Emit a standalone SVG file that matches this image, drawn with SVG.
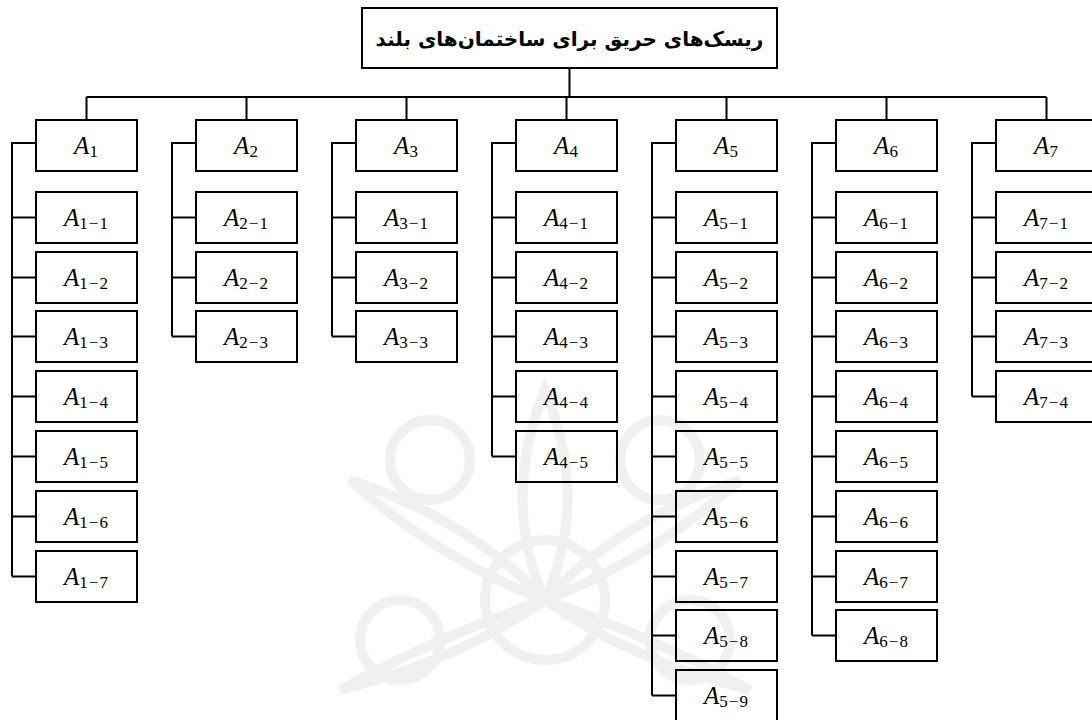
<svg xmlns="http://www.w3.org/2000/svg" width="1092" height="720" viewBox="0 0 1092 720">
<style>
.bx{fill:#fff;stroke:#000;stroke-width:2}
.bx2{fill:none;stroke:#000;stroke-width:2}
.ln{fill:none;stroke:#000;stroke-width:2}
.t{font-family:"Liberation Serif","DejaVu Serif",serif;font-size:25px;text-anchor:middle;fill:#000}
.a{font-style:italic}
.s{font-size:17px;letter-spacing:1px}
.ttl{font-family:"DejaVu Sans",sans-serif;font-weight:bold;font-size:20px;text-anchor:middle;fill:#000}
.wm{fill:none;stroke:#f0f0f0;stroke-width:10}
</style>
<rect width="1092" height="720" fill="#fff"/>
<g id="watermark" class="wm">
<circle cx="545" cy="600" r="60"/>
<path d="M545 600 Q500 500 545 390 Q590 500 545 600"/>
<path d="M545 600 Q440 560 350 480 Q470 520 545 600"/>
<path d="M545 600 Q650 560 740 480 Q620 520 545 600"/>
<path d="M545 600 Q430 640 340 690 Q460 660 545 600"/>
<path d="M545 600 Q660 640 750 690 Q630 660 545 600"/>
<circle cx="430" cy="460" r="40"/>
<circle cx="660" cy="460" r="40"/>
<circle cx="400" cy="640" r="40"/>
<circle cx="690" cy="640" r="40"/>
</g>
<g id="connectors" class="ln">
<path d="M569.5 68V97M86.5 97H1046.5M86.5 97V120M246.5 97V120M406.5 97V120M566.5 97V120M726.5 97V120M886.5 97V120M1046.5 97V120"/>
<path d="M36 143H12V576.5M12 217.5H36M12 277.5H36M12 336.5H36M12 396.5H36M12 456.5H36M12 516.5H36M12 576.5H36"/>
<path d="M196 143H172V336.5M172 217.5H196M172 277.5H196M172 336.5H196"/>
<path d="M356 143H332V336.5M332 217.5H356M332 277.5H356M332 336.5H356"/>
<path d="M516 143H492V456.5M492 217.5H516M492 277.5H516M492 336.5H516M492 396.5H516M492 456.5H516"/>
<path d="M676 143H652V695.5M652 217.5H676M652 277.5H676M652 336.5H676M652 396.5H676M652 456.5H676M652 516.5H676M652 576.5H676M652 635.5H676M652 695.5H676"/>
<path d="M836 143H812V635.5M812 217.5H836M812 277.5H836M812 336.5H836M812 396.5H836M812 456.5H836M812 516.5H836M812 576.5H836M812 635.5H836"/>
<path d="M996 143H972V396.5M972 217.5H996M972 277.5H996M972 336.5H996M972 396.5H996"/>
</g>
<g id="root"><rect class="bx" x="362" y="8" width="415" height="60"/><text class="ttl" x="569.5" y="46" direction="rtl">ریسک‌های حریق برای ساختمان‌های بلند</text></g>
<g id="A1"><rect class="bx" x="36" y="120" width="101" height="51"/><text class="t" x="86.5" y="154"><tspan class="a">A</tspan><tspan class="s" dy="3">1</tspan></text></g>
<g id="A1-1"><rect class="bx" x="36" y="192" width="101" height="51"/><text class="t" x="86.5" y="226"><tspan class="a">A</tspan><tspan class="s" dy="3">1−1</tspan></text></g>
<g id="A1-2"><rect class="bx" x="36" y="252" width="101" height="51"/><text class="t" x="86.5" y="286"><tspan class="a">A</tspan><tspan class="s" dy="3">1−2</tspan></text></g>
<g id="A1-3"><rect class="bx" x="36" y="311" width="101" height="51"/><text class="t" x="86.5" y="345"><tspan class="a">A</tspan><tspan class="s" dy="3">1−3</tspan></text></g>
<g id="A1-4"><rect class="bx" x="36" y="371" width="101" height="51"/><text class="t" x="86.5" y="405"><tspan class="a">A</tspan><tspan class="s" dy="3">1−4</tspan></text></g>
<g id="A1-5"><rect class="bx" x="36" y="431" width="101" height="51"/><text class="t" x="86.5" y="465"><tspan class="a">A</tspan><tspan class="s" dy="3">1−5</tspan></text></g>
<g id="A1-6"><rect class="bx" x="36" y="491" width="101" height="51"/><text class="t" x="86.5" y="525"><tspan class="a">A</tspan><tspan class="s" dy="3">1−6</tspan></text></g>
<g id="A1-7"><rect class="bx" x="36" y="551" width="101" height="51"/><text class="t" x="86.5" y="585"><tspan class="a">A</tspan><tspan class="s" dy="3">1−7</tspan></text></g>
<g id="A2"><rect class="bx" x="196" y="120" width="101" height="51"/><text class="t" x="246.5" y="154"><tspan class="a">A</tspan><tspan class="s" dy="3">2</tspan></text></g>
<g id="A2-1"><rect class="bx" x="196" y="192" width="101" height="51"/><text class="t" x="246.5" y="226"><tspan class="a">A</tspan><tspan class="s" dy="3">2−1</tspan></text></g>
<g id="A2-2"><rect class="bx" x="196" y="252" width="101" height="51"/><text class="t" x="246.5" y="286"><tspan class="a">A</tspan><tspan class="s" dy="3">2−2</tspan></text></g>
<g id="A2-3"><rect class="bx" x="196" y="311" width="101" height="51"/><text class="t" x="246.5" y="345"><tspan class="a">A</tspan><tspan class="s" dy="3">2−3</tspan></text></g>
<g id="A3"><rect class="bx" x="356" y="120" width="101" height="51"/><text class="t" x="406.5" y="154"><tspan class="a">A</tspan><tspan class="s" dy="3">3</tspan></text></g>
<g id="A3-1"><rect class="bx" x="356" y="192" width="101" height="51"/><text class="t" x="406.5" y="226"><tspan class="a">A</tspan><tspan class="s" dy="3">3−1</tspan></text></g>
<g id="A3-2"><rect class="bx" x="356" y="252" width="101" height="51"/><text class="t" x="406.5" y="286"><tspan class="a">A</tspan><tspan class="s" dy="3">3−2</tspan></text></g>
<g id="A3-3"><rect class="bx" x="356" y="311" width="101" height="51"/><text class="t" x="406.5" y="345"><tspan class="a">A</tspan><tspan class="s" dy="3">3−3</tspan></text></g>
<g id="A4"><rect class="bx" x="516" y="120" width="101" height="51"/><text class="t" x="566.5" y="154"><tspan class="a">A</tspan><tspan class="s" dy="3">4</tspan></text></g>
<g id="A4-1"><rect class="bx" x="516" y="192" width="101" height="51"/><text class="t" x="566.5" y="226"><tspan class="a">A</tspan><tspan class="s" dy="3">4−1</tspan></text></g>
<g id="A4-2"><rect class="bx" x="516" y="252" width="101" height="51"/><text class="t" x="566.5" y="286"><tspan class="a">A</tspan><tspan class="s" dy="3">4−2</tspan></text></g>
<g id="A4-3"><rect class="bx" x="516" y="311" width="101" height="51"/><text class="t" x="566.5" y="345"><tspan class="a">A</tspan><tspan class="s" dy="3">4−3</tspan></text></g>
<g id="A4-4"><rect class="bx2" x="516" y="371" width="101" height="51"/><text class="t" x="566.5" y="405"><tspan class="a">A</tspan><tspan class="s" dy="3">4−4</tspan></text></g>
<g id="A4-5"><rect class="bx2" x="516" y="431" width="101" height="51"/><text class="t" x="566.5" y="465"><tspan class="a">A</tspan><tspan class="s" dy="3">4−5</tspan></text></g>
<g id="A5"><rect class="bx" x="676" y="120" width="101" height="51"/><text class="t" x="726.5" y="154"><tspan class="a">A</tspan><tspan class="s" dy="3">5</tspan></text></g>
<g id="A5-1"><rect class="bx" x="676" y="192" width="101" height="51"/><text class="t" x="726.5" y="226"><tspan class="a">A</tspan><tspan class="s" dy="3">5−1</tspan></text></g>
<g id="A5-2"><rect class="bx" x="676" y="252" width="101" height="51"/><text class="t" x="726.5" y="286"><tspan class="a">A</tspan><tspan class="s" dy="3">5−2</tspan></text></g>
<g id="A5-3"><rect class="bx" x="676" y="311" width="101" height="51"/><text class="t" x="726.5" y="345"><tspan class="a">A</tspan><tspan class="s" dy="3">5−3</tspan></text></g>
<g id="A5-4"><rect class="bx2" x="676" y="371" width="101" height="51"/><text class="t" x="726.5" y="405"><tspan class="a">A</tspan><tspan class="s" dy="3">5−4</tspan></text></g>
<g id="A5-5"><rect class="bx2" x="676" y="431" width="101" height="51"/><text class="t" x="726.5" y="465"><tspan class="a">A</tspan><tspan class="s" dy="3">5−5</tspan></text></g>
<g id="A5-6"><rect class="bx2" x="676" y="491" width="101" height="51"/><text class="t" x="726.5" y="525"><tspan class="a">A</tspan><tspan class="s" dy="3">5−6</tspan></text></g>
<g id="A5-7"><rect class="bx2" x="676" y="551" width="101" height="51"/><text class="t" x="726.5" y="585"><tspan class="a">A</tspan><tspan class="s" dy="3">5−7</tspan></text></g>
<g id="A5-8"><rect class="bx2" x="676" y="610" width="101" height="51"/><text class="t" x="726.5" y="644"><tspan class="a">A</tspan><tspan class="s" dy="3">5−8</tspan></text></g>
<g id="A5-9"><rect class="bx2" x="676" y="670" width="101" height="51"/><text class="t" x="726.5" y="704"><tspan class="a">A</tspan><tspan class="s" dy="3">5−9</tspan></text></g>
<g id="A6"><rect class="bx" x="836" y="120" width="101" height="51"/><text class="t" x="886.5" y="154"><tspan class="a">A</tspan><tspan class="s" dy="3">6</tspan></text></g>
<g id="A6-1"><rect class="bx" x="836" y="192" width="101" height="51"/><text class="t" x="886.5" y="226"><tspan class="a">A</tspan><tspan class="s" dy="3">6−1</tspan></text></g>
<g id="A6-2"><rect class="bx" x="836" y="252" width="101" height="51"/><text class="t" x="886.5" y="286"><tspan class="a">A</tspan><tspan class="s" dy="3">6−2</tspan></text></g>
<g id="A6-3"><rect class="bx" x="836" y="311" width="101" height="51"/><text class="t" x="886.5" y="345"><tspan class="a">A</tspan><tspan class="s" dy="3">6−3</tspan></text></g>
<g id="A6-4"><rect class="bx" x="836" y="371" width="101" height="51"/><text class="t" x="886.5" y="405"><tspan class="a">A</tspan><tspan class="s" dy="3">6−4</tspan></text></g>
<g id="A6-5"><rect class="bx" x="836" y="431" width="101" height="51"/><text class="t" x="886.5" y="465"><tspan class="a">A</tspan><tspan class="s" dy="3">6−5</tspan></text></g>
<g id="A6-6"><rect class="bx" x="836" y="491" width="101" height="51"/><text class="t" x="886.5" y="525"><tspan class="a">A</tspan><tspan class="s" dy="3">6−6</tspan></text></g>
<g id="A6-7"><rect class="bx" x="836" y="551" width="101" height="51"/><text class="t" x="886.5" y="585"><tspan class="a">A</tspan><tspan class="s" dy="3">6−7</tspan></text></g>
<g id="A6-8"><rect class="bx" x="836" y="610" width="101" height="51"/><text class="t" x="886.5" y="644"><tspan class="a">A</tspan><tspan class="s" dy="3">6−8</tspan></text></g>
<g id="A7"><rect class="bx" x="996" y="120" width="101" height="51"/><text class="t" x="1046.5" y="154"><tspan class="a">A</tspan><tspan class="s" dy="3">7</tspan></text></g>
<g id="A7-1"><rect class="bx" x="996" y="192" width="101" height="51"/><text class="t" x="1046.5" y="226"><tspan class="a">A</tspan><tspan class="s" dy="3">7−1</tspan></text></g>
<g id="A7-2"><rect class="bx" x="996" y="252" width="101" height="51"/><text class="t" x="1046.5" y="286"><tspan class="a">A</tspan><tspan class="s" dy="3">7−2</tspan></text></g>
<g id="A7-3"><rect class="bx" x="996" y="311" width="101" height="51"/><text class="t" x="1046.5" y="345"><tspan class="a">A</tspan><tspan class="s" dy="3">7−3</tspan></text></g>
<g id="A7-4"><rect class="bx" x="996" y="371" width="101" height="51"/><text class="t" x="1046.5" y="405"><tspan class="a">A</tspan><tspan class="s" dy="3">7−4</tspan></text></g>
</svg>
